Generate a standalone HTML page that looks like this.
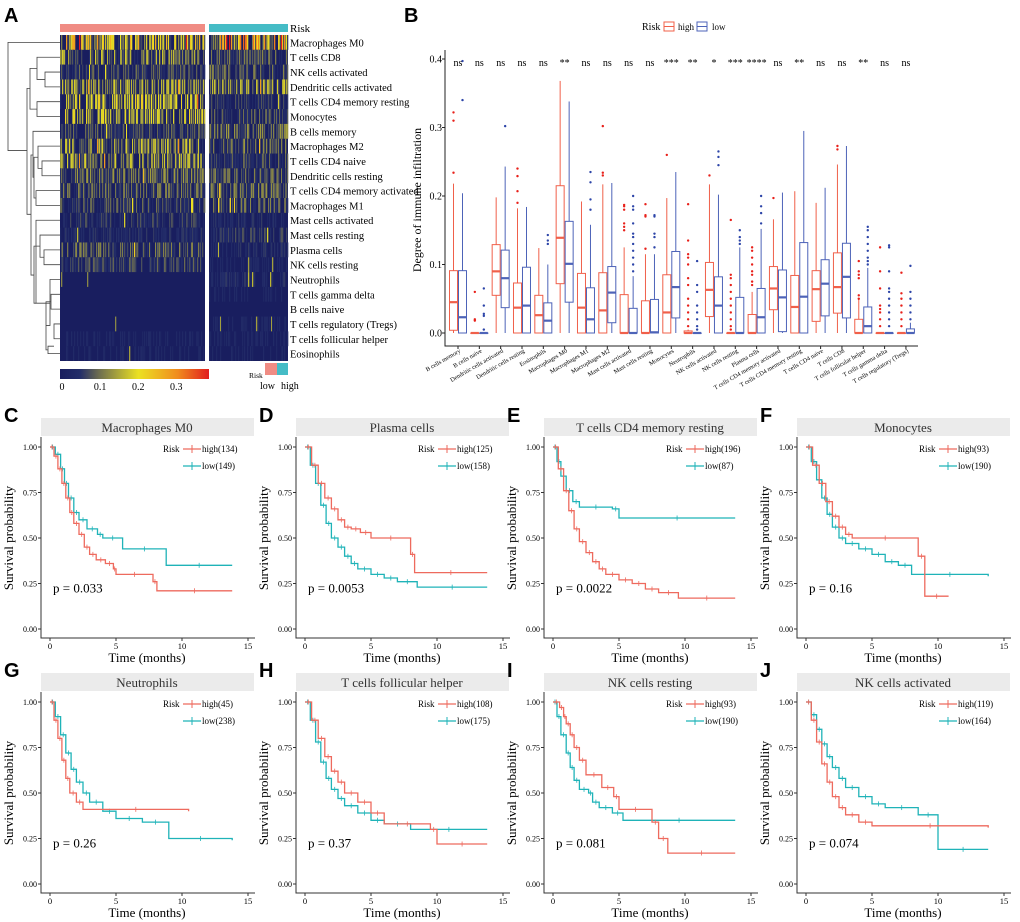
<!DOCTYPE html>
<html><head><meta charset="utf-8">
<style>
body{margin:0;background:#fff;}
svg{display:block;font-family:"Liberation Serif",serif;}
.lt{font-family:"Liberation Sans",sans-serif;font-weight:bold;font-size:20px;}
</style></head>
<body>
<svg id="fig" width="1020" height="922" viewBox="0 0 1020 922" xmlns="http://www.w3.org/2000/svg">
<text class="lt" x="4" y="22">A</text>
<text class="lt" x="404" y="22">B</text>
<g id="hm"></g>
<g id="bx"></g>
<g id="km"></g>
</svg>
<script>
const NS="http://www.w3.org/2000/svg";
function mk(tag,attrs,parent,txt){const e=document.createElementNS(NS,tag);for(const k in attrs)e.setAttribute(k,attrs[k]);if(txt!==undefined)e.textContent=txt;parent.appendChild(e);return e;}

/* ---------- Panel A data ---------- */
const hmRows=["Macrophages M0","T cells CD8","NK cells activated","Dendritic cells activated"," T cells CD4 memory resting","Monocytes","B cells memory","Macrophages M2","T cells CD4 naive","Dendritic cells resting","T cells CD4 memory activated","Macrophages M1","Mast cells activated","Mast cells resting","Plasma cells","NK cells resting","Neutrophils","T cells gamma delta","B cells naive","T cells regulatory (Tregs)","T cells follicular helper","Eosinophils"];
const hmHighMean=[0.14,0.09,0.05,0.09,0.11,0.11,0.05,0.09,0.09,0.07,0.06,0.05,0.04,0.03,0.06,0.05,0.01,0.01,0.01,0.01,0.02,0.02];
const hmLowMean=[0.16,0.06,0.06,0.09,0.04,0.05,0.07,0.07,0.05,0.06,0.07,0.06,0.03,0.04,0.03,0.02,0.03,0.02,0.01,0.02,0.02,0.02];

/* ---------- Panel B data ---------- */
const bxCats=["B cells memory","B cells naive","Dendritic cells activated","Dendritic cells resting","Eosinophils","Macrophages M0","Macrophages M1","Macrophages M2","Mast cells activated","Mast cells resting","Monocytes","Neutrophils","NK cells activated","NK cells resting","Plasma cells","T cells CD4 memory activated","T cells CD4 memory resting","T cells CD4 naive","T cells CD8","T cells follicular helper","T cells gamma delta","T cells regulatory (Tregs)"];
const bxSig=["ns","ns","ns","ns","ns","**","ns","ns","ns","ns","***","**","*","***","****","ns","**","ns","ns","**","ns","ns"];
// [whiskerLow, q1, median, q3, whiskerHigh]
const bxHigh=[[0,0.004,0.045,0.091,0.218],[0,0,0,0,0],[0,0.055,0.09,0.129,0.198],[0,0,0.037,0.073,0.182],[0,0,0.026,0.055,0.124],[0,0.072,0.139,0.215,0.368],[0,0,0.037,0.087,0.192],[0,0,0.033,0.088,0.217],[0,0,0,0.056,0.125],[0,0,0,0.047,0.115],[0,0,0.03,0.085,0.197],[0,0,0,0.003,0.005],[0,0.024,0.063,0.103,0.217],[0,0,0,0,0],[0,0,0,0.027,0.06],[0,0.034,0.065,0.097,0.166],[0,0,0.038,0.084,0.207],[0,0.017,0.064,0.091,0.19],[0,0.029,0.067,0.117,0.246],[0,0,0,0.02,0.05],[0,0,0,0,0],[0,0,0,0,0]];
const bxLow=[[0,0,0.023,0.091,0.204],[0,0,0,0,0],[0,0.037,0.08,0.121,0.243],[0,0,0.04,0.096,0.184],[0,0,0.018,0.044,0.1],[0,0.045,0.101,0.163,0.338],[0,0,0.02,0.066,0.158],[0,0.015,0.059,0.097,0.219],[0,0,0,0.036,0.083],[0,0,0.001,0.049,0.115],[0,0.022,0.067,0.119,0.235],[0,0,0,0,0],[0,0,0.04,0.082,0.202],[0,0,0,0.052,0.125],[0,0,0.023,0.065,0.152],[0,0.002,0.052,0.092,0.205],[0,0,0.053,0.132,0.295],[0,0.025,0.072,0.107,0.212],[0,0.022,0.082,0.131,0.273],[0,0,0.01,0.038,0.095],[0,0,0,0,0],[0,0,0,0.006,0.015]];
const bxHighOut=[[0.234,0.31,0.322],[0.018,0.02,0.06],[],[0.19,0.207,0.229,0.24],[],[],[],[0.23,0.234,0.302],[0.15,0.155,0.16,0.18,0.185,0.187],[0.123,0.17,0.172,0.188],[0.26],[0.01,0.02,0.03,0.04,0.05,0.07,0.08,0.1,0.11,0.115,0.135,0.188],[0.23],[0.005,0.01,0.02,0.03,0.04,0.05,0.06,0.07,0.08,0.085,0.165],[0.07,0.075,0.085,0.09,0.1,0.11,0.12,0.125],[0.197],[],[],[0.268,0.273],[0.05,0.055,0.08,0.085,0.09,0.105],[0.01,0.02,0.03,0.035,0.04,0.065,0.09,0.125],[0.01,0.02,0.03,0.04,0.05,0.058,0.088]];
const bxLowOut=[[0.34,0.397],[0.005,0.025,0.028,0.04,0.065],[0.302],[],[0.13,0.135,0.143],[],[0.18,0.195,0.22,0.235],[],[0.09,0.1,0.11,0.12,0.13,0.14,0.145,0.16,0.18,0.185,0.2],[0.125,0.14,0.145,0.17,0.172],[],[0.005,0.01,0.02,0.03,0.04,0.06,0.07,0.105],[0.245,0.257,0.265],[0.13,0.135,0.14,0.15],[0.16,0.175,0.185,0.2],[],[],[],[],[0.1,0.105,0.11,0.12,0.13,0.14,0.15,0.155],[0.01,0.02,0.03,0.04,0.05,0.06,0.065,0.09,0.125,0.128],[0.02,0.03,0.04,0.05,0.06,0.098]];
const bxTicks=[0,0.1,0.2,0.3,0.4];

/* ---------- KM data ---------- */
const kmTitles=["Macrophages M0","Plasma cells","T cells CD4 memory resting","Monocytes","Neutrophils","T cells follicular helper","NK cells resting","NK cells activated"];
const kmLetters=["C","D","E","F","G","H","I","J"];
const kmP=["0.033","0.0053","0.0022","0.16","0.26","0.37","0.081","0.074"];
const kmNHigh=[134,125,196,93,45,108,93,119];
const kmNLow=[149,158,87,190,238,175,190,164];
const kmHighT=[
[0,0.3,0.6,0.9,1.2,1.5,1.8,2.2,2.6,3,3.5,4.2,4.8,5,7.8,8.1,13.8],
[0,0.5,1,1.5,2,2.5,3,3.5,4.2,5,8,8.3,13.8],
[0,0.4,0.8,1.2,1.6,2,2.5,3,3.5,4,5,6,7,8,9.5,13.8],
[0,0.5,1,1.5,2,2.5,3,3.5,8.5,9,10.8],
[0,0.3,0.6,0.9,1.2,1.5,2,2.5,10.5],
[0,0.5,1,1.5,2,2.5,3,4,5,6,9.5,10,13.8],
[0,0.5,0.8,1,1.3,1.6,2,2.5,3.7,4.6,5,7.5,8,8.7,13.8],
[0,0.4,0.8,1.2,1.6,2,2.5,3,4,5,13.8]];
const kmHighS=[
[1,0.95,0.88,0.8,0.72,0.64,0.58,0.52,0.45,0.41,0.38,0.36,0.33,0.3,0.26,0.21,0.21],
[1,0.9,0.8,0.72,0.66,0.6,0.56,0.55,0.53,0.5,0.41,0.31,0.31],
[1,0.88,0.76,0.65,0.55,0.48,0.42,0.37,0.33,0.3,0.27,0.25,0.22,0.2,0.17,0.17],
[1,0.9,0.8,0.7,0.62,0.56,0.52,0.5,0.4,0.18,0.18],
[1,0.9,0.8,0.68,0.58,0.5,0.45,0.41,0.4],
[1,0.9,0.8,0.7,0.62,0.56,0.5,0.45,0.39,0.33,0.3,0.22,0.22],
[1,0.97,0.92,0.88,0.82,0.75,0.68,0.6,0.53,0.48,0.41,0.34,0.25,0.17,0.17],
[1,0.9,0.78,0.66,0.56,0.48,0.42,0.38,0.34,0.32,0.31]];
const kmLowT=[
[0,0.4,0.8,1.1,1.4,1.8,2.2,2.8,3.6,4,5.5,8.8,13.8],
[0,0.4,0.8,1.2,1.6,2,2.5,3,3.5,4,5,6,7,8.5,13.8],
[0,0.3,0.6,1,1.5,2,4.5,5,13.8],
[0,0.4,0.8,1.2,1.6,2,2.5,3,4,5,6,7,8,13.8],
[0,0.4,0.8,1.2,1.6,2,2.5,3,4,5,7,9,13.8],
[0,0.4,0.8,1.2,1.6,2,2.5,3,4,5,6,8,13.8],
[0,0.3,0.6,1,1.3,1.6,2,2.7,3,3.5,4.5,5.3,13.8],
[0,0.4,0.8,1.2,1.6,2,2.5,3,4,5,6,8.5,10,13.8]];
const kmLowS=[
[1,0.96,0.88,0.8,0.72,0.64,0.6,0.55,0.52,0.5,0.44,0.35,0.35],
[1,0.9,0.8,0.68,0.58,0.5,0.45,0.4,0.36,0.33,0.3,0.28,0.26,0.23,0.23],
[1,0.92,0.84,0.76,0.7,0.67,0.66,0.61,0.61],
[1,0.92,0.82,0.72,0.63,0.56,0.5,0.47,0.44,0.41,0.37,0.35,0.3,0.29],
[1,0.92,0.82,0.72,0.63,0.56,0.5,0.45,0.4,0.36,0.34,0.25,0.24],
[1,0.9,0.78,0.67,0.58,0.52,0.47,0.43,0.39,0.35,0.33,0.3,0.3],
[1,0.92,0.82,0.72,0.64,0.57,0.52,0.5,0.45,0.42,0.39,0.35,0.35],
[1,0.93,0.85,0.77,0.7,0.64,0.58,0.53,0.48,0.44,0.42,0.38,0.19,0.19]];
const kmTicksY=[0,0.25,0.5,0.75,1];
const kmTicksX=[0,5,10,15];

/* ---------- colormap ---------- */
function cmap(v){
  const stops=[[0,[25,30,95]],[0.05,[35,45,105]],[0.1,[110,110,80]],[0.2,[235,225,35]],[0.3,[240,140,30]],[0.38,[225,30,30]]];
  v=Math.max(0,Math.min(0.38,v));
  for(let i=1;i<stops.length;i++){if(v<=stops[i][0]){const a=stops[i-1],b=stops[i];const t=(v-a[0])/(b[0]-a[0]);return `rgb(${a[1].map((c,j)=>Math.round(c+(b[1][j]-c)*t)).join(',')})`;}}
  return "rgb(225,30,30)";
}
function hash(a,b){let h=(a*374761393+b*668265263)>>>0;h=((h^(h>>>13))*1274126177)>>>0;return ((h^(h>>>16))>>>0)/4294967296;}

/* ---------- Panel A ---------- */
(function(){
  const g=document.getElementById('hm');
  const top=35,bot=361,rowH=(bot-top)/hmRows.length;
  const segs=[{x0:60,x1:205,n:145,means:hmHighMean,col:"#f08c84",name:"high"},{x0:209,x1:288,n:79,means:hmLowMean,col:"#45bcc6",name:"low"}];
  segs.forEach((s,si)=>{
    const bar=mk('rect',{x:s.x0,y:24,width:s.x1-s.x0,height:8,fill:s.col},g);
    
    
    const cw=(s.x1-s.x0)/s.n;
    const seg=mk('g',{},g);
    
    
    mk('rect',{x:s.x0,y:top,width:s.x1-s.x0,height:bot-top,fill:cmap(0)},seg);
    hmRows.forEach((r,ri)=>{
      for(let c=0;c<s.n;c++){
        const h=hash(c+si*1000,ri);
        let v=h<0.35?0:s.means[ri]*(h-0.2)*2.6;
        if(h>0.99)v+=0.1;
        if(v<0.025)continue;
        mk('rect',{x:(s.x0+c*cw).toFixed(2),y:(top+ri*rowH).toFixed(2),width:(cw+0.3).toFixed(2),height:rowH.toFixed(2),fill:cmap(v)},seg);
      }
    });
  });
  const rl=mk('text',{x:290,y:32,'font-size':11},g,"Risk");
  
  hmRows.forEach((r,ri)=>{
    const t=mk('text',{x:290,y:(top+ri*rowH+rowH/2+4).toFixed(1),'font-size':10.5,'xml:space':'preserve'},g,r);
    
    
  });
  const dg=mk('g',{stroke:"#444","stroke-width":0.8,fill:"none"},g);
  
  const cy=i=>top+i*rowH+rowH/2;
  function link(x,ya,yb,xa,xb){mk('path',{d:`M${xa},${ya}H${x}V${yb}H${xb}`},dg);}
  link(37,cy(1),cy(2.5),60,45); link(45,cy(2),cy(3),60,60);
  link(37,cy(4),cy(5),60,60);
  link(30,cy(1.75),cy(4.5),37,37);
  link(42,cy(8),cy(9),60,60); link(38,cy(7),cy(8.5),60,42);
  link(36,cy(10),cy(11),60,60); link(34,cy(7.75),cy(10.5),38,36);
  link(33,cy(6),cy(9.1),60,34);
  link(44,cy(14),cy(15),60,60); link(40,cy(13),cy(14.5),60,44);
  link(51,cy(17),cy(18),60,60); link(54,cy(19),cy(20),60,60);
  link(48,cy(20.5),cy(21),54,60);
  link(46,cy(17.5),cy(20.75),51,48);
  link(50,cy(16),cy(19.1),60,46);
  link(36,cy(12),cy(17.6),60,50);
  link(34,cy(13.75),cy(17.6),40,36);
  link(31,cy(7.6),cy(15.7),33,34);
  link(27,cy(3.1),cy(11.6),30,31);
  link(8,cy(0),cy(7.3),60,27);
  const grad=mk('defs',{},g);
  const lg=mk('linearGradient',{id:'cb'},grad);
  [0,0.05,0.1,0.15,0.2,0.25,0.3,0.35,0.38].forEach(v=>mk('stop',{offset:(v/0.38*100)+'%','stop-color':cmap(v)},lg));
  const cb=mk('rect',{x:60,y:369,width:149,height:10,fill:'url(#cb)'},g);
  
  [0,0.1,0.2,0.3].forEach(v=>{const t=mk('text',{x:62+v*381,y:390,'font-size':10,'text-anchor':'middle'},g,String(v));});
  const lgd=mk('g',{},g);
  mk('text',{x:249,y:378,'font-size':7.5},lgd,"Risk");
  mk('rect',{x:265,y:363,width:12,height:12,fill:'#f08c84'},lgd);
  mk('rect',{x:277,y:363,width:11,height:12,fill:'#45bcc6'},lgd);
  mk('text',{x:260,y:389,'font-size':10},lgd,"low");
  mk('text',{x:281,y:389,'font-size':10},lgd,"high");
})();

/* ---------- Panel B ---------- */
(function(){
  const g=document.getElementById('bx');
  const y=v=>333-v*685, x=i=>458+i*21.33;
  const ax=mk('path',{d:"M445,50V346H918",stroke:"#222",fill:"none","stroke-width":1},g);
  
  const yt=mk('text',{transform:"translate(421,200) rotate(-90)",'font-size':12,'text-anchor':'middle'},g,"Degree of immune infiltration");
  
  bxTicks.forEach(v=>{
    mk('line',{x1:442,x2:445,y1:y(v),y2:y(v),stroke:"#222"},g);
    const t=mk('text',{x:442,y:y(v)+3.5,'font-size':10,'text-anchor':'end'},g,v.toFixed(1));
    
  });
  function box(cx,d,out,col,dot,name){
    const bg=mk('g',{stroke:col,fill:'none','stroke-width':1},g);
    
    mk('line',{x1:cx,x2:cx,y1:y(d[0]),y2:y(d[1])},bg);
    mk('line',{x1:cx,x2:cx,y1:y(d[3]),y2:y(d[4])},bg);
    mk('rect',{x:cx-4,y:y(d[3]),width:8,height:Math.max(0.5,y(d[1])-y(d[3]))},bg);
    mk('line',{x1:cx-4,x2:cx+4,y1:y(d[2]),y2:y(d[2]),'stroke-width':2.2},bg);
    out.forEach(v=>mk('circle',{cx:cx,cy:y(v),r:1.2,fill:dot,stroke:'none'},bg));
  }
  bxCats.forEach((c,i)=>{
    box(x(i)-4.5,bxHigh[i],bxHighOut[i],"#f0604a","#e8201a",'box-high');
    box(x(i)+4.5,bxLow[i],bxLowOut[i],"#4d63b8","#2d45a8",'box-low');
    mk('line',{x1:x(i),x2:x(i),y1:346,y2:349,stroke:'#222'},g);
    const t=mk('text',{transform:`translate(${x(i)+3},352) rotate(-30)`,'font-size':6.2,'text-anchor':'end'},g,c);
    
    const s=mk('text',{x:x(i),y:66,'font-size':10,'text-anchor':'middle'},g,bxSig[i]);
    
  });
  const lg=mk('g',{},g);
  mk('text',{x:642,y:30,'font-size':10},lg,"Risk");
  mk('rect',{x:664,y:22,width:10,height:9,fill:'none',stroke:'#f0604a'},lg);
  mk('line',{x1:664,x2:674,y1:26.5,y2:26.5,stroke:'#f0604a'},lg);
  mk('text',{x:678,y:30,'font-size':9},lg,"high");
  mk('rect',{x:697,y:22,width:10,height:9,fill:'none',stroke:'#4d63b8'},lg);
  mk('line',{x1:697,x2:707,y1:26.5,y2:26.5,stroke:'#4d63b8'},lg);
  mk('text',{x:712,y:30,'font-size':9},lg,"low");
})();

/* ---------- KM panels ---------- */
(function(){
  const root=document.getElementById('km');
  const colX0=[50,305,553,806], rowY1=[447,702];
  kmTitles.forEach((title,k)=>{
    const col=k%4,row=Math.floor(k/4);
    const x0=colX0[col],y1=rowY1[row],y0=y1+182;
    const X=t=>x0+t*13.2, Y=s=>y0-s*182;
    const g=mk('g',{},root);
    
    
    mk('text',{class:'lt',x:x0-46,y:y1-25,'font-size':20},g,kmLetters[k]);
    const strip=mk('rect',{x:x0-9,y:y1-29,width:213,height:18,fill:'#ebebeb'},g);
    
    const tt=mk('text',{x:x0+97,y:y1-15,'font-size':13,'text-anchor':'middle',fill:'#333'},g,title);
    
    mk('path',{d:`M${x0-9},${y1-10}V${y0+9}H${x0+205}`,stroke:'#333',fill:'none','stroke-width':1},g);
    kmTicksY.forEach(v=>{mk('line',{x1:x0-12,x2:x0-9,y1:Y(v),y2:Y(v),stroke:'#333'},g);
      const t=mk('text',{x:x0-13,y:Y(v)+3,'font-size':8,'text-anchor':'end'},g,v.toFixed(2));});
    kmTicksX.forEach(v=>{mk('line',{x1:X(v),x2:X(v),y1:y0+9,y2:y0+12,stroke:'#333'},g);
      const t=mk('text',{x:X(v),y:y0+20,'font-size':8.5,'text-anchor':'middle'},g,String(v));});
    const yl=mk('text',{transform:`translate(${x0-37},${(y0+y1)/2}) rotate(-90)`,'font-size':13,'text-anchor':'middle'},g,"Survival probability");
    
    const xl=mk('text',{x:x0+97,y:y0+33,'font-size':13,'text-anchor':'middle'},g,"Time (months)");
    
    function curve(T,S,color,name){
      let d=`M${X(T[0])},${Y(S[0])}`;
      for(let i=1;i<T.length;i++){d+=`H${X(T[i]).toFixed(1)}V${Y(S[i]).toFixed(1)}`;}
      const p=mk('path',{d:d,stroke:color,fill:'none','stroke-width':1.3},g);
      
      for(let i=1;i<T.length;i++){const cx=(X(T[i-1])+X(T[i]))/2;mk('path',{d:`M${cx},${Y(S[i-1])-2.5}v5`,stroke:color,'stroke-width':0.8},g);}
    }
    curve(kmLowT[k],kmLowS[k],'#1fb3b8','km-curve-low');
    curve(kmHighT[k],kmHighS[k],'#ee6a5e','km-curve-high');
    const pv=mk('text',{x:x0+3,y:Y(0.2),'font-size':13},g,"p = "+kmP[k]);
    
    const lg=mk('g',{},g);
    mk('text',{x:x0+113,y:y1+5,'font-size':9},lg,"Risk");
    mk('line',{x1:x0+133,x2:x0+151,y1:y1+2,y2:y1+2,stroke:'#ee6a5e','stroke-width':1.3},lg);
    mk('line',{x1:x0+142,x2:x0+142,y1:y1-2,y2:y1+6,stroke:'#ee6a5e'},lg);
    mk('text',{x:x0+152,y:y1+5,'font-size':9},lg,"high("+kmNHigh[k]+")");
    mk('line',{x1:x0+133,x2:x0+151,y1:y1+19,y2:y1+19,stroke:'#1fb3b8','stroke-width':1.3},lg);
    mk('line',{x1:x0+142,x2:x0+142,y1:y1+15,y2:y1+23,stroke:'#1fb3b8'},lg);
    mk('text',{x:x0+152,y:y1+22,'font-size':9},lg,"low("+kmNLow[k]+")");
  });
})();
</script>
</body></html>
